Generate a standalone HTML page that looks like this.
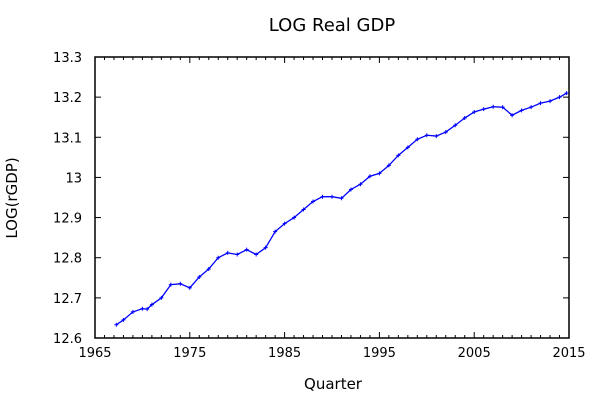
<!DOCTYPE html>
<html><head><meta charset="utf-8"><style>
body{margin:0;background:#fff;}
svg{display:block;font-family:"DejaVu Sans","Liberation Sans",sans-serif;}
</style></head><body>
<svg id="chart" width="600" height="400">
<text x="332" y="31" font-size="18" text-anchor="middle">LOG Real GDP</text>
<text x="333" y="389" font-size="15" text-anchor="middle">Quarter</text>
<text transform="translate(17,198) rotate(-90)" font-size="15" text-anchor="middle">LOG(rGDP)</text>
<g id="axes"></g>
<rect x="95" y="57" width="474" height="281" fill="none" stroke="#000" stroke-width="1.5"/>
<g id="series"></g>
</svg>
<script>
const years=[1967.25,1968,1969,1970,1970.5,1971,1972,1973,1974,1975,1976,1977,1978,1979,1980,1981,1982,1983,1984,1985,1986,1987,1988,1989,1990,1991,1992,1993,1994,1995,1996,1997,1998,1999,2000,2001,2002,2003,2004,2005,2006,2007,2008,2009,2010,2011,2012,2013,2014,2014.75];
const values=[12.633,12.645,12.665,12.673,12.672,12.683,12.700,12.733,12.735,12.725,12.752,12.772,12.800,12.812,12.808,12.820,12.808,12.825,12.865,12.885,12.900,12.920,12.940,12.952,12.952,12.948,12.970,12.983,13.003,13.010,13.030,13.055,13.075,13.095,13.105,13.103,13.113,13.130,13.148,13.163,13.170,13.176,13.175,13.155,13.167,13.175,13.185,13.190,13.200,13.210];
const xTicks=[1965,1975,1985,1995,2005,2015];
const yTicks=[12.6,12.7,12.8,12.9,13,13.1,13.2,13.3];
const yLabels=["12.6","12.7","12.8","12.9","13","13.1","13.2","13.3"];
const X0=95,X1=569,Y0=338,Y1=57;
const sx=v=>X0+(v-1965)/(2015-1965)*(X1-X0);
const sy=v=>Y0-(v-12.6)/(13.3-12.6)*(Y0-Y1);
const NS="http://www.w3.org/2000/svg";
const ax=document.getElementById('axes'),se=document.getElementById('series');
function mk(t,a,p){const e=document.createElementNS(NS,t);for(const k in a)e.setAttribute(k,a[k]);p.appendChild(e);return e;}
for(let y=1965;y<=2015;y++){const x=sx(y);const big=(y-1965)%10===0;const L=big?6:3;
const t1=mk('line',{x1:x,x2:x,y1:Y0,y2:Y0-L,stroke:'#000'},ax);


const t2=mk('line',{x1:x,x2:x,y1:Y1,y2:Y1+L,stroke:'#000'},ax);

}
xTicks.forEach(v=>{const t=mk('text',{x:sx(v),y:Y0+19,'font-size':13,'text-anchor':'middle'},ax);t.textContent=v;

});
yTicks.forEach((v,i)=>{const y=sy(v);
const l=mk('line',{x1:X0,x2:X0+6,y1:y,y2:y,stroke:'#000'},ax);


const r=mk('line',{x1:X1,x2:X1-6,y1:y,y2:y,stroke:'#000'},ax);


const t=mk('text',{x:X0-13,y:y+5,'font-size':13,'text-anchor':'end'},ax);t.textContent=yLabels[i];

});
const pts=years.map((y,i)=>sx(y)+','+sy(values[i])).join(' ');
const pl=mk('polyline',{points:pts,fill:'none',stroke:'#0000ff','stroke-width':1.3},se);


years.forEach((y,i)=>{const x=sx(y),v=sy(values[i]);
const p=mk('path',{d:`M${x-2},${v}h4M${x},${v-2}v4`,stroke:'#0000ff','stroke-width':1},se);

});
</script>
</body></html>
